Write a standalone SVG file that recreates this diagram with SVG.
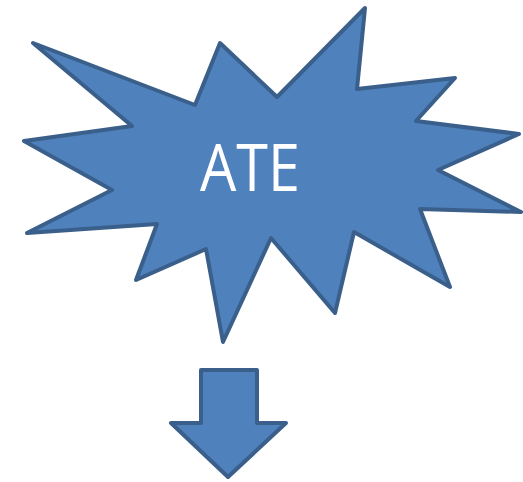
<svg xmlns="http://www.w3.org/2000/svg" width="523" height="482" viewBox="0 0 523 482">
<style>
.shape{fill:#4F81BD;stroke:#3A5F8B;stroke-width:4;stroke-linejoin:round}
.lbl{font-family:"Open Sans","Liberation Sans",sans-serif;fill:#FFFFFF;font-size:66px}
</style>
<rect width="523" height="482" fill="#FFFFFF"/>
<g id="burst">
<polygon class="shape" points="33,43 195,105 220,43 277,97 365,8 357,89 455,78 416,121 519,134 438,170 521,212 420,209 450,287 354,232 335,313 271,238 223,342 206,249 136,280 157,224 27,233 112,190 24,141 132,126"/>
<text class="lbl" x="250" y="191" text-anchor="middle" textLength="100" lengthAdjust="spacingAndGlyphs">ATE</text>
</g>
<g id="arrow">
<polygon class="shape" stroke-linejoin="miter" points="201,370 257,370 257,423 286,423 228,477 171,423 201,423"/>
</g>
<g id="connectors"></g>
</svg>
